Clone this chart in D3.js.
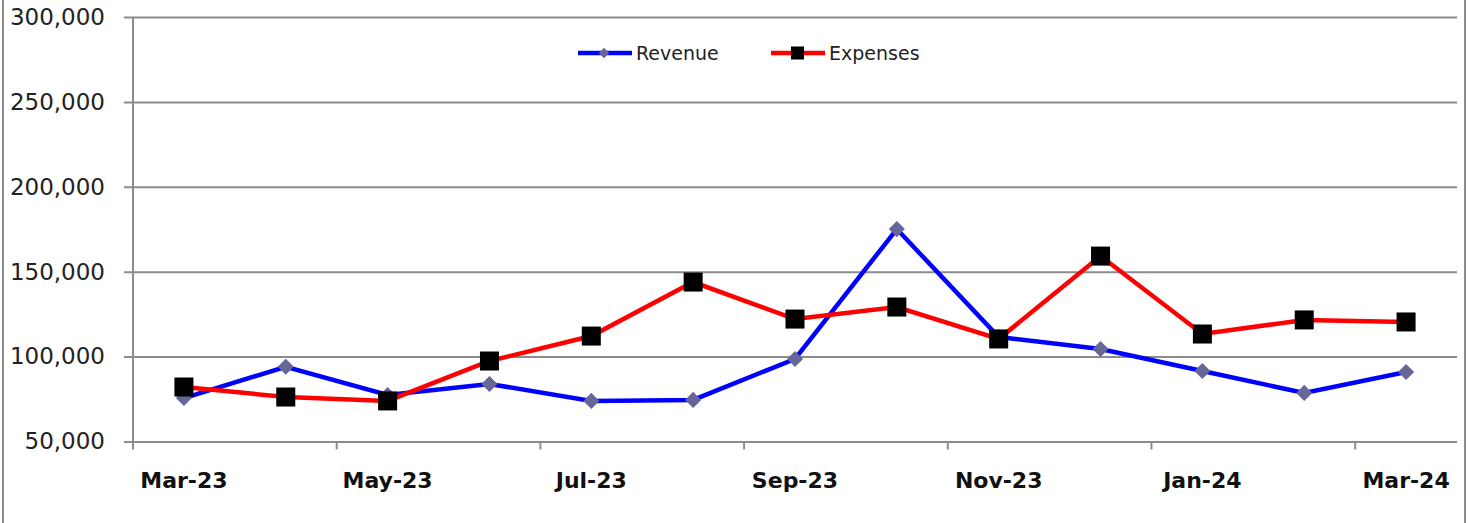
<!doctype html>
<html>
  <head>
    <meta charset="utf-8">
    <title>Revenue and Expenses</title>
    <script src="https://d3js.org/d3.v7.min.js"></script>
    <style>
      body { margin: 0; background: #fff; }
    </style>
  </head>
  <body>
    <script>
      const months = ['Mar-23', 'Apr-23', 'May-23', 'Jun-23', 'Jul-23', 'Aug-23', 'Sep-23',
                      'Oct-23', 'Nov-23', 'Dec-23', 'Jan-24', 'Feb-24', 'Mar-24'];
      const revenue = [75600, 94000, 77400, 83900, 73900, 74500, 98600,
                       175100, 111500, 104500, 91500, 78600, 90900];
      const expenses = [82100, 76200, 73900, 97400, 112100, 143900, 122100,
                        129200, 110400, 159200, 113300, 121600, 120400];
      const yTicks = [50000, 100000, 150000, 200000, 250000, 300000];

      const width = 1468;
      const height = 523;
      const plot = { left: 133, right: 1457, top: 17, bottom: 441.5 };

      const svg = d3.select('body').append('svg')
          .attr('width', width)
          .attr('height', height);

      // chart frame (left and right edges visible)
      svg.append('line').attr('x1', 3).attr('x2', 3).attr('y1', 0).attr('y2', height)
          .attr('stroke', '#8c8c8c').attr('stroke-width', 2);
      svg.append('line').attr('x1', 1465).attr('x2', 1465).attr('y1', 0).attr('y2', height)
          .attr('stroke', '#8c8c8c').attr('stroke-width', 2);

      const x = d3.scaleBand()
          .domain(months)
          .range([plot.left, plot.right])
          .padding(0);
      const y = d3.scaleLinear()
          .domain([50000, 300000])
          .range([plot.bottom, plot.top]);

      // gridlines + y axis
      const yAxis = d3.axisLeft(y)
          .tickValues(yTicks)
          .tickSize(-(plot.right - plot.left))
          .tickPadding(28)
          .tickFormat(d3.format(','));
      const gy = svg.append('g')
          .attr('transform', `translate(${plot.left},0)`)
          .call(yAxis);
      gy.select('.domain').remove();
      gy.selectAll('.tick line')
          .attr('x1', -9)
          .attr('stroke', '#8c8c8c')
          .attr('stroke-width', 2);
      gy.selectAll('.tick text')
          .attr('fill', '#222')
          .style('font-family', '"DejaVu Sans", sans-serif')
          .style('font-size', '23px');

      // y axis line
      svg.append('line')
          .attr('x1', plot.left).attr('x2', plot.left)
          .attr('y1', plot.top).attr('y2', plot.bottom)
          .attr('stroke', '#8c8c8c').attr('stroke-width', 2);

      // x axis: ticks every two months at band edges
      const gx = svg.append('g');
      const edges = d3.range(0, months.length + 1, 2).map(i => plot.left + i * x.bandwidth());
      gx.selectAll('line.tick')
        .data(edges)
        .enter().append('line')
          .attr('x1', d => d).attr('x2', d => d)
          .attr('y1', plot.bottom).attr('y2', plot.bottom + 8)
          .attr('stroke', '#8c8c8c').attr('stroke-width', 2);
      gx.selectAll('text')
        .data(months.filter((m, i) => i % 2 === 0))
        .enter().append('text')
          .attr('x', d => x(d) + x.bandwidth() / 2)
          .attr('y', 488)
          .attr('text-anchor', 'middle')
          .attr('fill', '#111')
          .style('font-family', '"DejaVu Sans", sans-serif')
          .style('font-weight', 'bold')
          .style('font-size', '22px')
          .text(d => d);

      const cx = m => x(m) + x.bandwidth() / 2;
      const line = d3.line()
          .x((d, i) => cx(months[i]))
          .y(d => y(d));

      // lines
      svg.append('path')
          .datum(revenue)
          .attr('d', line)
          .attr('fill', 'none')
          .attr('stroke', '#0000ff')
          .attr('stroke-width', 4.5);
      svg.append('path')
          .datum(expenses)
          .attr('d', line)
          .attr('fill', 'none')
          .attr('stroke', '#ff0000')
          .attr('stroke-width', 4.5);

      // markers
      const diamond = d3.symbol().type(d3.symbolSquare).size(130);
      svg.selectAll('path.rev')
        .data(revenue)
        .enter().append('path')
          .attr('class', 'rev')
          .attr('d', diamond)
          .attr('transform', (d, i) => `translate(${cx(months[i])},${y(d)}) rotate(45)`)
          .attr('fill', '#666699');
      svg.selectAll('rect.exp')
        .data(expenses)
        .enter().append('rect')
          .attr('class', 'exp')
          .attr('x', (d, i) => cx(months[i]) - 9.5)
          .attr('y', d => y(d) - 9.5)
          .attr('width', 19)
          .attr('height', 19)
          .attr('fill', '#000');

      // legend
      const legend = svg.append('g')
          .style('font-family', '"DejaVu Sans", sans-serif')
          .style('font-size', '19px');
      const lr = legend.append('g').attr('transform', 'translate(578,53)');
      lr.append('line').attr('x1', 0).attr('x2', 54).attr('stroke', '#0000ff').attr('stroke-width', 4.5);
      lr.append('path').attr('d', d3.symbol().type(d3.symbolSquare).size(55))
          .attr('transform', 'translate(26,0) rotate(45)').attr('fill', '#666699');
      lr.append('text').attr('x', 58).attr('y', 7).attr('fill', '#222').text('Revenue');
      const le = legend.append('g').attr('transform', 'translate(771,53)');
      le.append('line').attr('x1', 0).attr('x2', 54).attr('stroke', '#ff0000').attr('stroke-width', 4.5);
      le.append('rect').attr('x', 20).attr('y', -6.5).attr('width', 13).attr('height', 13).attr('fill', '#000');
      le.append('text').attr('x', 58).attr('y', 7).attr('fill', '#222').text('Expenses');
    </script>
  </body>
</html>
